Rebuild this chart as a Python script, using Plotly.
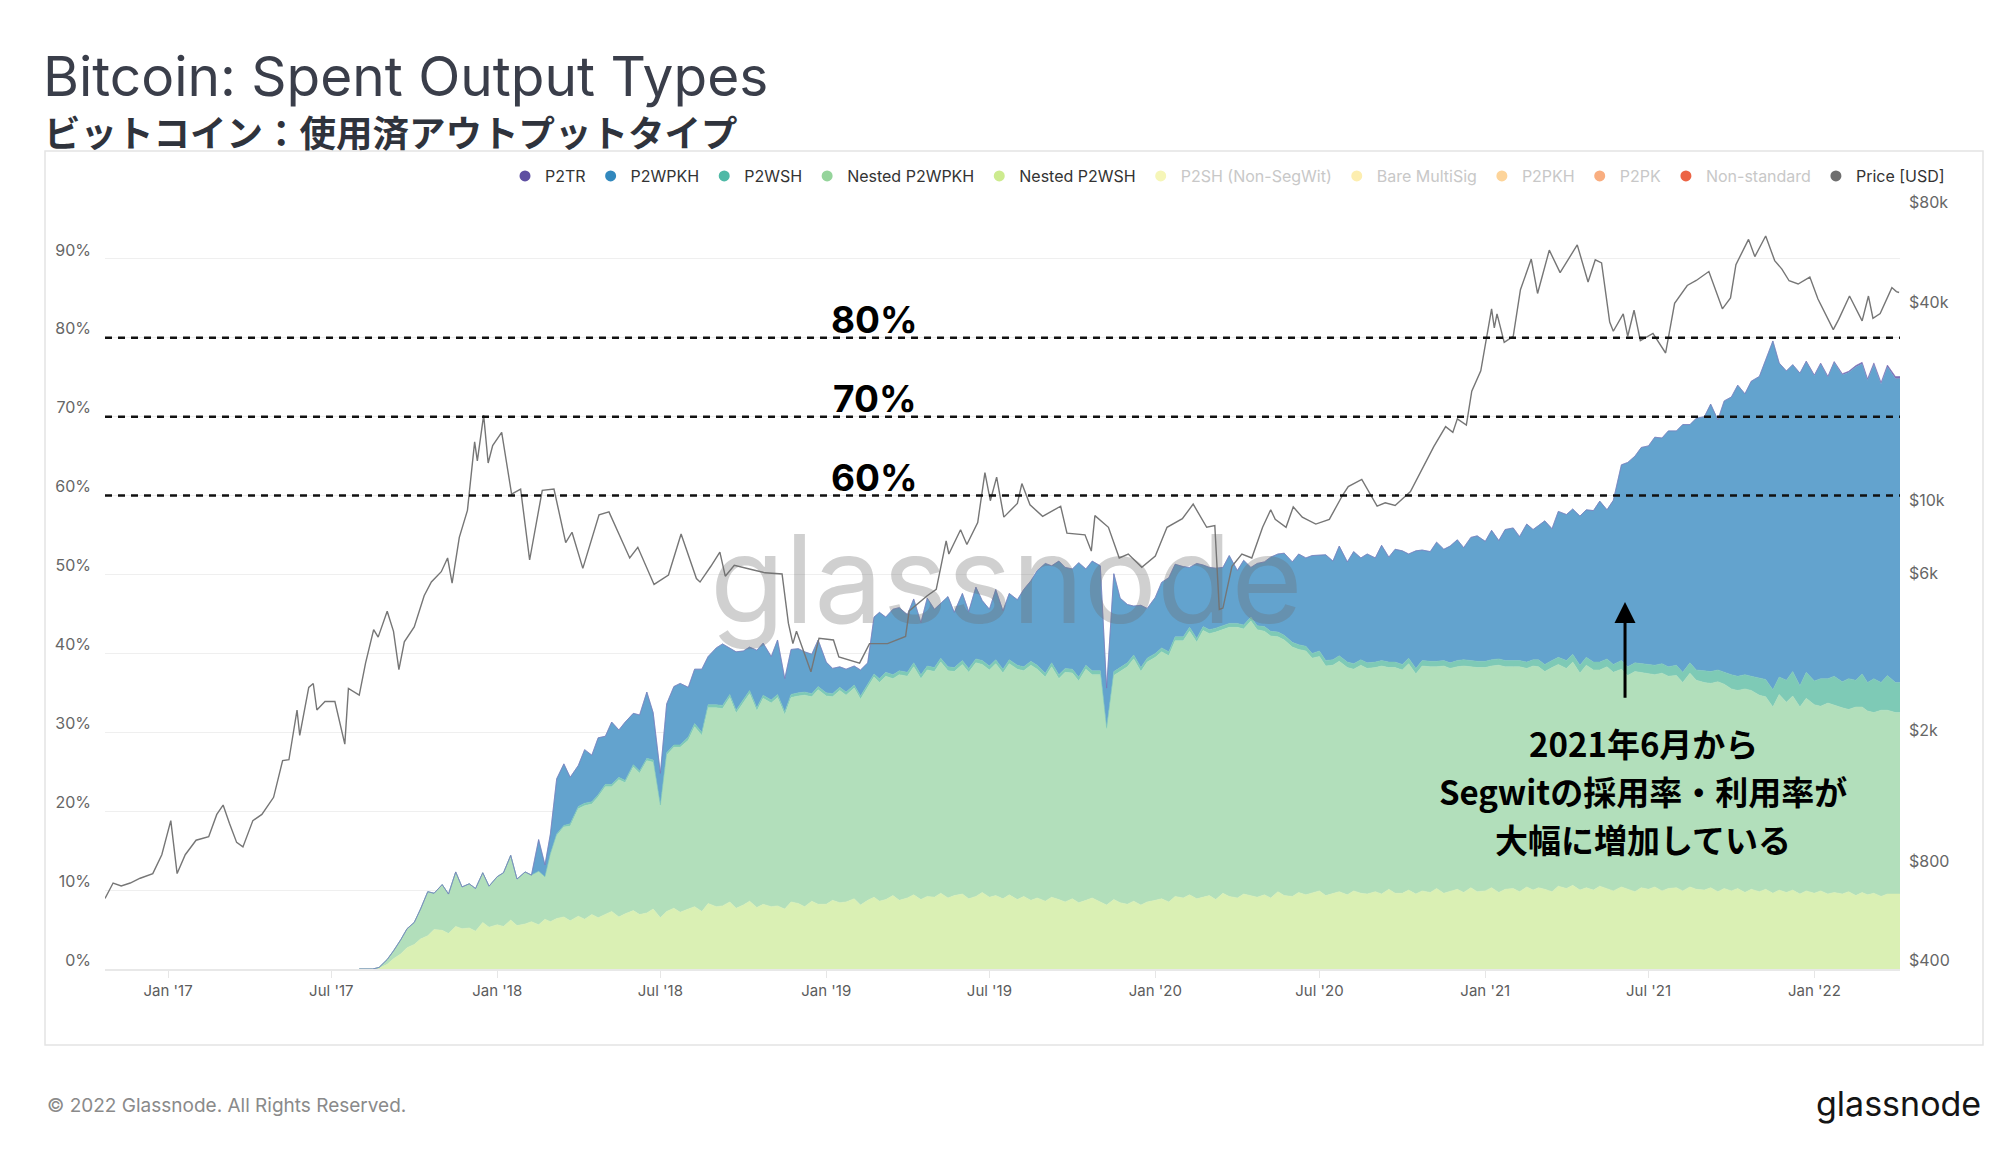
import math
import pandas as pd
import plotly.graph_objects as go

# ---------------- data (percent of spent outputs, 4 samples per month) ----------------
# months 2017-08 .. 2022-04, samples at day 1, 8, 16, 23 of each month
nested_p2wsh = [
    # 2017 Aug-Dec
    0, 0, 0, 0.1, 0.6, 1.3, 1.9, 2.7, 3.1, 3.8, 4.2, 5.0, 4.9, 4.5, 5.4, 5.1, 5.2, 4.8, 5.9, 5.3,
    # 2018
    5.6, 5.4, 6.2, 5.5, 5.7, 6.0, 5.6, 6.3, 6.0, 6.4, 6.6, 6.1, 6.7, 6.3, 6.9, 6.5,
    6.9, 7.3, 6.6, 7.0, 7.4, 6.9, 7.1, 7.6, 6.5, 7.3, 7.7, 7.2, 7.6, 7.9, 7.3, 8.3,
    7.9, 8.0, 8.5, 7.7, 8.1, 8.6, 7.8, 8.2, 7.9, 8.0, 7.6, 8.5, 8.3, 7.9, 8.6, 8.2,
    # 2019
    8.2, 8.7, 8.4, 8.5, 8.9, 8.1, 8.7, 9.1, 8.6, 8.8, 9.3, 8.7, 9.0, 9.4, 8.8, 9.2,
    9.1, 9.6, 9.0, 9.3, 9.5, 8.9, 9.2, 9.7, 9.1, 9.3, 8.9, 9.4, 8.8, 9.2, 8.7, 9.0,
    8.6, 9.1, 8.8, 8.5, 8.9, 8.4, 8.7, 9.0, 8.5, 8.1, 8.8, 8.4, 8.2, 8.6, 8.1, 8.5,
    # 2020
    8.7, 8.9, 8.5, 9.2, 9.0, 9.4, 8.9, 9.1, 9.3, 8.8, 9.6, 9.2, 9.0, 9.5, 9.3, 9.1,
    9.4, 9.0, 9.8, 9.3, 9.2, 9.7, 9.4, 9.6, 9.9, 9.3, 9.6, 9.8, 9.4, 9.9, 9.6, 9.5,
    9.8, 9.5, 10.1, 9.6, 9.6, 10.0, 9.5, 9.9, 9.7, 10.2, 9.6, 9.8, 10.1, 9.7, 10.3, 9.8,
    # 2021
    9.9, 10.3, 9.7, 10.1, 10.2, 9.8, 10.4, 10.0, 10.3, 10.1, 9.8, 10.5, 10.2, 10.6, 10.0, 10.3,
    10.0, 10.5, 10.2, 9.9, 10.4, 10.1, 9.8, 10.3, 10.1, 10.4, 9.9, 10.2, 10.3, 9.9, 10.4, 10.1,
    10.0, 10.3, 9.8, 10.2, 9.9, 10.2, 9.7, 10.1, 9.8, 10.1, 9.6, 10.0, 9.7, 10.0, 9.5, 9.9,
    # 2022 Jan-Apr
    9.6, 9.9, 9.5, 9.7, 9.5, 9.8, 9.3, 9.7, 9.4, 9.6, 9.2, 9.5, 9.5, 9.5, 9.5, 9.5,
]
nested_p2wpkh = [
    0, 0, 0, 0.1, 0.6, 1.0, 1.8, 2.4, 2.8, 3.8, 5.6, 4.6, 5.8, 5.0, 6.9, 5.3, 5.6, 5.4, 6.3, 5.2,
    6.1, 6.8, 8.2, 5.9, 6.6, 5.9, 6.8, 5.4, 8.5, 10.5, 11.4, 12.0, 13.6, 14.4, 14.0, 15.3,
    16.2, 15.8, 17.4, 16.6, 18.2, 17.9, 19.3, 18.6, 14.0, 19.8, 20.4, 20.9, 21.4, 22.8, 22.3, 24.8,
    25.2, 25.0, 25.9, 24.7, 25.6, 26.3, 24.9, 26.1, 25.8, 26.4, 24.6, 25.9, 26.3, 26.8, 25.9, 27.2,
    26.4, 25.8, 26.9, 26.2, 26.7, 26.1, 27.0, 27.9, 27.7, 28.3, 27.5, 28.6, 28.1, 28.9, 28.0, 28.7,
    28.6, 29.3, 28.8, 28.4, 29.1, 28.7, 29.6, 28.9, 28.8, 29.4, 28.6, 29.3, 29.2, 28.6, 29.8, 29.0,
    28.4, 29.2, 28.0, 29.1, 28.6, 28.1, 29.3, 28.3, 28.8, 22.0, 28.4, 29.3, 30.1, 30.7, 29.6, 30.4,
    30.8, 31.3, 31.2, 32.4, 32.6, 33.4, 32.5, 33.8, 33.2, 33.9, 33.4, 34.1, 34.3, 33.6, 34.8, 33.9,
    33.4, 33.2, 32.3, 32.4, 31.6, 30.8, 30.9, 29.8, 29.7, 29.1, 28.9, 29.2, 28.8, 28.1, 28.9, 28.6,
    28.4, 28.9, 28.1, 28.6, 28.3, 28.7, 27.9, 28.5, 28.6, 28.1, 28.8, 28.3, 28.2, 28.7, 28.0, 28.4,
    28.3, 28.1, 28.8, 28.2, 28.1, 28.5, 27.7, 28.4, 28.0, 27.6, 28.4, 28.1, 27.9, 28.3, 27.5, 28.2,
    27.9, 27.4, 28.1, 27.7, 27.6, 27.1, 27.9, 27.3, 27.3, 26.9, 27.6, 26.9, 26.9, 26.4, 27.1, 26.5,
    26.3, 25.9, 26.6, 25.9, 25.6, 25.1, 25.8, 25.2, 24.9, 24.4, 23.6, 24.8, 24.1, 24.6, 23.7, 24.4,
    23.9, 23.4, 24.2, 23.7, 23.6, 23.1, 23.9, 23.5, 23.3, 22.9, 23.6, 23.3, 23.0, 23.0, 23.0, 23.0,
]
p2wsh = [
    0, 0, 0, 0, 0, 0, 0, 0, 0, 0, 0, 0, 0, 0, 0, 0, 0, 0, 0, 0,
    0, 0, 0, 0, 0, 0, 0, 0, 0.1, 0.2, 0.2, 0.3, 0.3, 0.3, 0.3, 0.3,
    0.3, 0.3, 0.3, 0.3, 0.3, 0.3, 0.3, 0.3, 0.3, 0.3, 0.3, 0.3, 0.4, 0.4, 0.4, 0.4,
    0.4, 0.4, 0.4, 0.4, 0.4, 0.4, 0.4, 0.4, 0.4, 0.4, 0.4, 0.4, 0.4, 0.4, 0.4, 0.4,
    0.4, 0.4, 0.4, 0.4, 0.4, 0.4, 0.4, 0.4, 0.5, 0.5, 0.5, 0.5, 0.5, 0.5, 0.5, 0.5,
    0.5, 0.5, 0.5, 0.5, 0.5, 0.5, 0.5, 0.5, 0.5, 0.5, 0.5, 0.5, 0.5, 0.5, 0.5, 0.5,
    0.5, 0.5, 0.5, 0.5, 0.5, 0.5, 0.5, 0.5, 0.5, 0.5, 0.5, 0.5, 0.5, 0.5, 0.5, 0.5,
    0.5, 0.5, 0.5, 0.5, 0.5, 0.5, 0.5, 0.5, 0.5, 0.5, 0.5, 0.5, 0.5, 0.5, 0.5, 0.5,
    0.6, 0.6, 0.6, 0.6, 0.6, 0.6, 0.6, 0.6, 0.7, 0.7, 0.7, 0.7, 0.7, 0.7, 0.7, 0.7,
    0.7, 0.7, 0.7, 0.7, 0.7, 0.7, 0.7, 0.7, 0.7, 0.7, 0.7, 0.7, 0.8, 0.8, 0.8, 0.8,
    0.8, 0.8, 0.8, 0.8, 0.8, 0.8, 0.8, 0.8, 0.9, 0.9, 0.9, 0.9, 1.0, 1.0, 1.0, 1.0,
    1.0, 1.0, 1.0, 1.0, 1.1, 1.1, 1.1, 1.1, 1.2, 1.2, 1.2, 1.2, 1.3, 1.3, 1.3, 1.3,
    1.5, 1.5, 1.5, 1.5, 1.8, 1.8, 1.8, 1.8, 2.2, 2.2, 2.2, 2.2, 2.8, 3.1, 2.7, 3.3,
    3.0, 3.5, 3.1, 3.7, 3.3, 3.9, 3.4, 4.2, 3.6, 4.3, 3.5, 4.4, 3.8, 3.8, 3.8, 3.8,
]
p2wpkh = [
    0, 0, 0, 0, 0, 0, 0, 0, 0, 0, 0, 0, 0, 0, 0, 0, 0, 0, 0, 0,
    0, 0, 0, 0, 0, 0, 4.0, 1.5, 2.5, 7.0, 7.8, 5.9, 5.2, 6.8, 5.9, 7.2,
    6.1, 7.9, 6.0, 7.4, 6.5, 7.1, 8.4, 6.0, 4.0, 6.2, 7.4, 7.8, 6.3, 6.9, 8.0, 6.1,
    7.2, 7.8, 5.9, 7.4, 6.2, 5.5, 7.3, 6.6, 5.5, 6.9, 4.2, 5.7, 5.6, 5.1, 5.0, 5.9,
    3.9, 3.2, 2.6, 2.9, 2.4, 3.3, 2.7, 7.2, 8.4, 7.0, 8.3, 8.0, 7.3, 8.1, 6.6, 8.6,
    7.4, 6.9, 8.9, 7.0, 8.5, 7.2, 9.1, 7.6, 7.2, 8.9, 7.4, 8.4, 8.3, 9.8, 10.2, 12.0,
    13.9, 12.3, 14.4, 12.8, 12.7, 14.5, 12.2, 13.9, 13.3, 5.0, 12.4, 8.8, 7.4, 6.2, 7.9, 6.3,
    7.1, 8.3, 9.4, 9.2, 8.9, 7.6, 9.5, 7.8, 7.9, 7.6, 7.4, 8.6, 6.7, 8.2, 6.3, 7.9,
    8.2, 9.4, 9.9, 10.4, 10.2, 11.5, 11.2, 12.4, 12.2, 13.4, 12.5, 13.9, 12.7, 14.2, 12.9, 13.8,
    13.2, 14.6, 13.3, 14.3, 14.4, 13.2, 14.9, 14.0, 13.9, 15.1, 14.1, 14.8, 15.3, 14.2, 15.6, 15.9,
    15.2, 16.4, 15.0, 16.6, 16.8, 15.7, 17.5, 16.5, 17.0, 18.2, 16.7, 18.5, 18.5, 18.4, 18.9, 18.7,
    19.2, 20.4, 18.9, 20.8, 24.8, 25.9, 26.2, 27.4, 27.7, 28.9, 28.6, 29.9, 29.7, 31.4, 30.2, 31.9,
    32.2, 33.9, 31.7, 34.4, 35.2, 36.9, 35.6, 37.4, 38.2, 40.4, 44.2, 39.8, 39.2, 38.9, 39.6, 39.4,
    38.7, 39.9, 38.2, 39.8, 38.9, 38.8, 39.7, 39.3, 38.3, 39.8, 37.8, 39.1, 38.5, 38.5, 38.5, 38.5,
]
# P2TR only exists from Nov 2021 (last 20 samples)
p2tr = [0, 0, 0.03, 0.05, 0.08, 0.1, 0.12, 0.1, 0.15, 0.15, 0.18, 0.2,
        0.2, 0.22, 0.25, 0.25, 0.28, 0.3, 0.3, 0.3]

price_dates = [
    "2016-10-23", "2016-11-01", "2016-11-10", "2016-11-20", "2016-12-01", "2016-12-15", "2016-12-25",
    "2017-01-04", "2017-01-11", "2017-01-20", "2017-02-01", "2017-02-15", "2017-02-24", "2017-03-03",
    "2017-03-10", "2017-03-18", "2017-03-25", "2017-04-05", "2017-04-15", "2017-04-28", "2017-05-08",
    "2017-05-15", "2017-05-24", "2017-05-27", "2017-06-06", "2017-06-11", "2017-06-15", "2017-06-24",
    "2017-07-05", "2017-07-16", "2017-07-20", "2017-08-01", "2017-08-08", "2017-08-17", "2017-08-22",
    "2017-09-01", "2017-09-08", "2017-09-14", "2017-09-20", "2017-10-01", "2017-10-12", "2017-10-20",
    "2017-10-31", "2017-11-07", "2017-11-12", "2017-11-20", "2017-11-29", "2017-12-07", "2017-12-10",
    "2017-12-17", "2017-12-22", "2017-12-27", "2018-01-06", "2018-01-17", "2018-01-27", "2018-02-06",
    "2018-02-20", "2018-03-05", "2018-03-18", "2018-03-25", "2018-04-06", "2018-04-24", "2018-05-05",
    "2018-05-15", "2018-05-28", "2018-06-06", "2018-06-24", "2018-07-10", "2018-07-24", "2018-08-10",
    "2018-08-14", "2018-08-26", "2018-09-05", "2018-09-11", "2018-09-21", "2018-10-10", "2018-10-25",
    "2018-11-13", "2018-11-20", "2018-11-25", "2018-11-29", "2018-12-15", "2018-12-24", "2019-01-09",
    "2019-01-15", "2019-02-07", "2019-02-18", "2019-03-10", "2019-03-30", "2019-04-03", "2019-04-23",
    "2019-05-03", "2019-05-14", "2019-05-17", "2019-05-30", "2019-06-06", "2019-06-18", "2019-06-26",
    "2019-07-02", "2019-07-09", "2019-07-17", "2019-08-01", "2019-08-06", "2019-08-15", "2019-08-29",
    "2019-09-18", "2019-09-25", "2019-10-15", "2019-10-22", "2019-10-26", "2019-11-10", "2019-11-22",
    "2019-12-02", "2019-12-17", "2020-01-01", "2020-01-14", "2020-01-31", "2020-02-12", "2020-02-27",
    "2020-03-07", "2020-03-12", "2020-03-16", "2020-03-26", "2020-04-06", "2020-04-17", "2020-04-29",
    "2020-05-08", "2020-05-13", "2020-05-25", "2020-06-02", "2020-06-12", "2020-06-27", "2020-07-12",
    "2020-07-27", "2020-08-02", "2020-08-17", "2020-09-03", "2020-09-12", "2020-09-23", "2020-10-10",
    "2020-10-21", "2020-11-05", "2020-11-18", "2020-11-26", "2020-12-01", "2020-12-11", "2020-12-17",
    "2020-12-27", "2021-01-08", "2021-01-11", "2021-01-14", "2021-01-22", "2021-02-01", "2021-02-09",
    "2021-02-21", "2021-02-28", "2021-03-13", "2021-03-25", "2021-04-13", "2021-04-25", "2021-05-03",
    "2021-05-10", "2021-05-19", "2021-05-23", "2021-06-03", "2021-06-08", "2021-06-15", "2021-06-22",
    "2021-07-06", "2021-07-20", "2021-07-30", "2021-08-13", "2021-08-23", "2021-09-06", "2021-09-21",
    "2021-09-30", "2021-10-06", "2021-10-20", "2021-10-27", "2021-11-08", "2021-11-18", "2021-11-26",
    "2021-12-04", "2021-12-14", "2021-12-27", "2022-01-05", "2022-01-22", "2022-01-28", "2022-02-09",
    "2022-02-23", "2022-03-02", "2022-03-07", "2022-03-15", "2022-03-28", "2022-04-02", "2022-04-05",
]
price_usd = [
    655, 730, 715, 730, 755, 780, 890,
    1130, 780, 890, 985, 1010, 1180, 1260,
    1110, 970, 940, 1130, 1180, 1330, 1720,
    1730, 2450, 2050, 2870, 2950, 2450, 2600,
    2600, 1930, 2850, 2720, 3400, 4300, 4080,
    4890, 4250, 3250, 3950, 4380, 5450, 6000,
    6450, 7100, 5950, 8200, 9900, 16000, 14000,
    19300, 13800, 15600, 17100, 11100, 11500, 7000,
    11400, 11500, 7900, 8500, 6600, 9600, 9800,
    8500, 7100, 7650, 5900, 6300, 8400, 6150,
    6000, 6700, 7400, 6250, 6750, 6550, 6400,
    6350, 4500, 3900, 4250, 3200, 4050, 4000,
    3550, 3400, 3900, 3900, 4100, 4900, 5450,
    5700, 8000, 7300, 8650, 7800, 9100, 12900,
    10600, 12500, 9450, 10400, 11950, 10300, 9500,
    10200, 8450, 8350, 7450, 9550, 8800, 7100,
    7300, 6650, 7200, 8800, 9350, 10350, 8800,
    8900, 4950, 5000, 6700, 7300, 7100, 8800,
    9950, 9300, 8800, 10150, 9450, 9000, 9300,
    11050, 11700, 12300, 10200, 10450, 10250, 11300,
    12900, 15500, 17800, 17100, 18800, 18000, 22800,
    26300, 40600, 35500, 39200, 32100, 33500, 46400,
    57500, 45200, 61200, 52300, 63500, 49000, 57200,
    56000, 37000, 34700, 39200, 33500, 40200, 32500,
    34200, 29800, 42200, 47800, 49500, 52700, 40600,
    43800, 55300, 66000, 58500, 67600, 56900, 53600,
    49400, 48300, 50700, 43500, 35100, 37700, 44400,
    37300, 44400, 38000, 39300, 47100, 45800, 45500,
]

pct_ticks = [0, 0.1, 0.2, 0.3, 0.4, 0.5, 0.6, 0.7, 0.8, 0.9]
price_ticks = [400, 800, 2000, 6000, 10000, 40000, 80000]
price_tick_text = ["$400", "$800", "$2k", "$6k", "$10k", "$40k", "$80k"]
x_tick_dates = ["2017-01-01", "2017-07-01", "2018-01-01", "2018-07-01", "2019-01-01", "2019-07-01",
                "2020-01-01", "2020-07-01", "2021-01-01", "2021-07-01", "2022-01-01"]
x_tick_text = ["Jan '17", "Jul '17", "Jan '18", "Jul '18", "Jan '19", "Jul '19",
               "Jan '20", "Jul '20", "Jan '21", "Jul '21", "Jan '22"]
threshold_levels = [0.8, 0.7, 0.6]
threshold_labels = ["80%", "70%", "60%"]
note_lines = ["2021年6月から", "Segwitの採用率・利用率が", "大幅に増加している"]

# ---------------- sample dates ----------------
months = pd.date_range("2017-08-01", periods=57, freq="MS")
offsets = [0, 7, 15, 22]
dates = [m + pd.Timedelta(days=o) for m in months for o in offsets]
assert len(dates) == len(nested_p2wsh) == len(nested_p2wpkh) == len(p2wsh) == len(p2wpkh)
tr_dates = dates[-len(p2tr):]

FONT = "Inter, 'Noto Sans', sans-serif"
JP = "'Noto Sans CJK JP', sans-serif"

fig = go.Figure()

layers = [
    ("Nested P2WSH", dates, nested_p2wsh, "#daf0b4"),
    ("Nested P2WPKH", dates, nested_p2wpkh, "#b2dfbb"),
    ("P2WSH", dates, p2wsh, "#7ecab6"),
    ("P2WPKH", dates, p2wpkh, "#63a3ce"),
    ("P2TR", tr_dates, p2tr, "#7d6fb5"),
]
for name, xs, vals, col in layers:
    fig.add_trace(go.Scatter(
        x=xs, y=[v / 100 for v in vals], name=name, stackgroup="one", mode="lines",
        line=dict(width=0.6, color=col), fillcolor=col, showlegend=False, hoverinfo="skip"))

fig.add_trace(go.Scatter(
    x=price_dates, y=price_usd, name="Price [USD]", yaxis="y2", mode="lines",
    line=dict(color="#767676", width=1.4), showlegend=False, hoverinfo="skip"))

# legend entries (circle markers)
legend_items = [
    ("P2TR", "#5e4fa2", None),
    ("P2WPKH", "#3288bd", None),
    ("P2WSH", "#4fb9a6", None),
    ("Nested P2WPKH", "#95d49b", None),
    ("Nested P2WSH", "#cdeb8f", None),
    ("P2SH (Non-SegWit)", "#f6f6b8", "#c8c8c8"),
    ("Bare MultiSig", "#fdeeb0", "#c8c8c8"),
    ("P2PKH", "#fdd49a", "#c8c8c8"),
    ("P2PK", "#f9ae80", "#c8c8c8"),
    ("Non-standard", "#ec6445", "#c8c8c8"),
    ("Price [USD]", "#6f6f6f", None),
]
for name, col, txtcol in legend_items:
    label = name if txtcol is None else f"<span style='color:{txtcol}'>{name}</span>"
    fig.add_trace(go.Scatter(x=[None], y=[None], mode="markers", name=label,
                             marker=dict(color=col, size=11, symbol="circle"),
                             showlegend=True, hoverinfo="skip"))

W, H = 2000, 1152
L, R, T, B = 105, 100, 180, 183
pw, ph = W - L - R, H - T - B


def px(x):
    return (x - L) / pw


def py(y):
    return (H - B - y) / ph


shapes = [dict(type="rect", xref="paper", yref="paper", x0=px(45), x1=px(1983), y0=py(1045), y1=py(151),
               line=dict(color="#e4e4e4", width=1.5), fillcolor="rgba(0,0,0,0)", layer="below")]
for lv in threshold_levels:
    shapes.append(dict(type="line", xref="paper", yref="y", x0=0, x1=1, y0=lv, y1=lv,
                       line=dict(color="#111111", width=2.5, dash="7px,6px")))

annotations = [
    dict(text="Bitcoin: Spent Output Types", xref="paper", yref="paper", x=px(41), y=py(76),
         xanchor="left", yanchor="middle", showarrow=False, font=dict(family=FONT, size=55, color="#3a3e4a")),
    dict(text="<b>ビットコイン：使用済アウトプットタイプ</b>", xref="paper", yref="paper", x=px(42), y=py(131),
         xanchor="left", yanchor="middle", showarrow=False, font=dict(family=JP, size=36.5, color="#2f333c")),
    dict(text="glassnode", xref="paper", yref="paper", x=px(1006), y=py(578), xanchor="center",
         yanchor="middle", showarrow=False, font=dict(family=FONT, size=122, color="rgba(110,110,110,0.32)")),
    dict(text="© 2022 Glassnode. All Rights Reserved.", xref="paper", yref="paper", x=px(45), y=py(1105),
         xanchor="left", yanchor="middle", showarrow=False, font=dict(family=FONT, size=19, color="#8a8a8a")),
    dict(text="glassnode", xref="paper", yref="paper", x=px(1983), y=py(1103), xanchor="right",
         yanchor="middle", showarrow=False, font=dict(family=FONT, size=34, color="#151515")),
]
for lv, lab in zip(threshold_levels, threshold_labels):
    annotations.append(dict(text=f"<b>{lab}</b>", x="2019-02-24", y=lv + 0.023, xref="x", yref="y",
                            xanchor="center", yanchor="middle", showarrow=False,
                            font=dict(family=FONT, size=37, color="#000000")))
annotations.append(dict(text="", x="2021-06-05", y=0.465, ax="2021-06-05", ay=0.342, xref="x", yref="y",
                        axref="x", ayref="y", showarrow=True, arrowhead=2, arrowsize=1.4, arrowwidth=3,
                        arrowcolor="#000000"))
for i, line in enumerate(note_lines):
    annotations.append(dict(text=f"<b>{line}</b>", x="2021-06-25", y=py(743 + 48 * i), xref="x", yref="paper",
                            xanchor="center", yanchor="middle", showarrow=False,
                            font=dict(family=JP, size=33, color="#000000")))

fig.update_layout(
    width=W, height=H, margin=dict(l=L, r=R, t=T, b=B),
    paper_bgcolor="white", plot_bgcolor="white",
    font=dict(family=FONT, color="#5f5f5f"),
    shapes=shapes, annotations=annotations,
    legend=dict(orientation="h", x=px(1950), xanchor="right", y=py(176), yanchor="middle",
                font=dict(family=FONT, size=16, color="#333333"), itemwidth=30,
                bgcolor="rgba(0,0,0,0)", traceorder="normal"),
    xaxis=dict(type="date", range=["2016-10-23", "2022-04-06"], tickvals=x_tick_dates, ticktext=x_tick_text,
               tickfont=dict(size=15, color="#5c5c5c"), showgrid=False, zeroline=False,
               showline=True, linecolor="#e8e8e8", linewidth=2, ticks="outside", ticklen=7,
               tickcolor="#e6e6e6"),
    yaxis=dict(range=[0, 1], tickvals=pct_ticks, tickformat=".0%", showgrid=True, gridcolor="#efefef",
               zeroline=False, tickfont=dict(size=16, color="#666666"), ticklabelstandoff=13,
               ticklabelshift=-9),
    yaxis2=dict(type="log", overlaying="y", side="right", range=[math.log10(400), 5],
                tickvals=price_ticks, ticktext=price_tick_text, showgrid=False, zeroline=False,
                tickfont=dict(size=16, color="#666666"), ticklabelstandoff=8, ticklabelshift=-9),
)

fig.write_html("out.html", config={"displayModeBar": False},
               post_script="document.body.style.margin='0px';")
